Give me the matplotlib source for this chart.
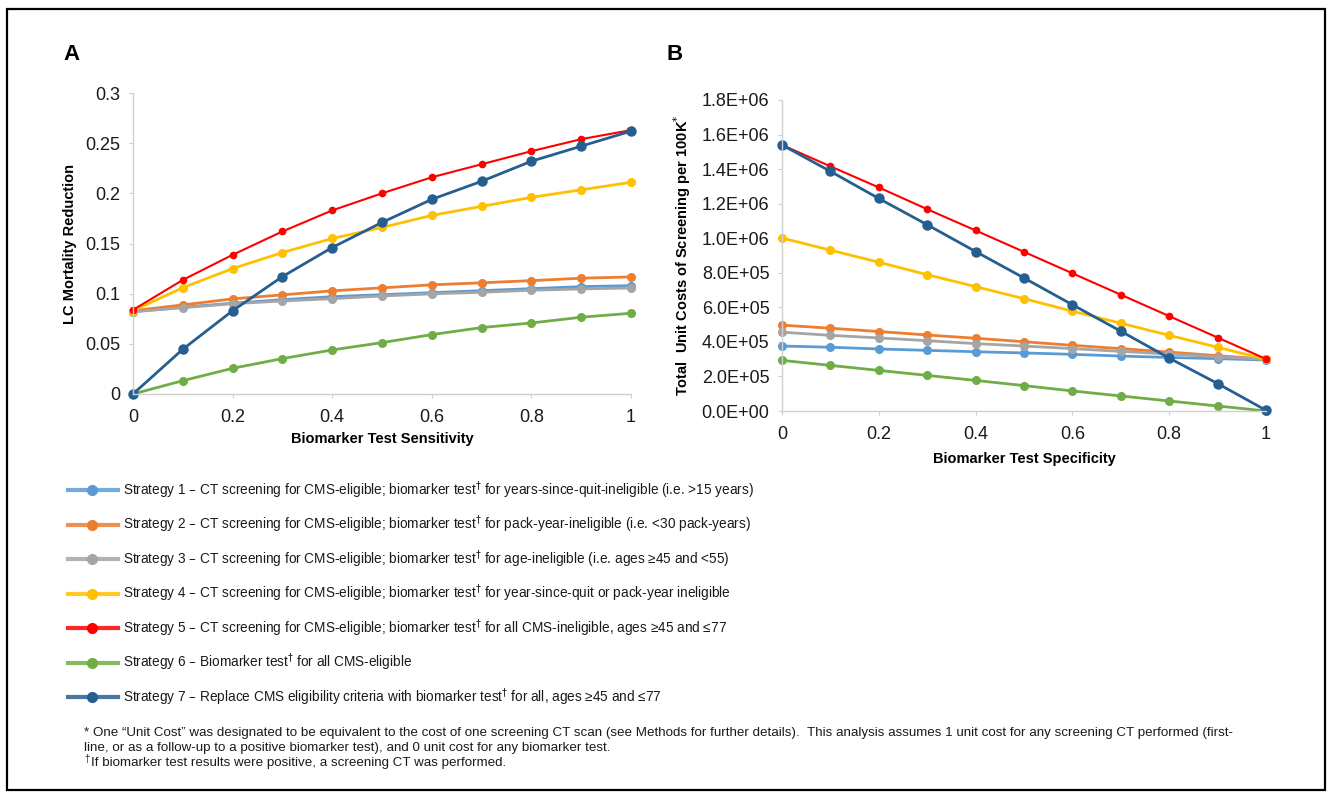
import matplotlib

matplotlib.use("Agg")
import matplotlib.pyplot as plt
from matplotlib.lines import Line2D
from matplotlib.patches import Rectangle
from matplotlib.ticker import FuncFormatter

W, H = 1329, 797

# x values (sensitivity / specificity)
x_vals = [0, 0.1, 0.2, 0.3, 0.4, 0.5, 0.6, 0.7, 0.8, 0.9, 1.0]

# panel A: LC mortality reduction vs sensitivity
mort_s1 = [0.082, 0.0865, 0.0905, 0.094, 0.097, 0.099, 0.101, 0.103, 0.105, 0.107, 0.108]
mort_s2 = [0.083, 0.0888, 0.0948, 0.0988, 0.1028, 0.1058, 0.1088, 0.1108, 0.113, 0.1154, 0.1167]
mort_s3 = [0.082, 0.086, 0.090, 0.0927, 0.095, 0.0977, 0.0998, 0.1014, 0.1034, 0.1047, 0.1057]
mort_s4 = [0.083, 0.106, 0.125, 0.141, 0.155, 0.166, 0.178, 0.187, 0.196, 0.2035, 0.211]
mort_s5 = [0.0838, 0.1137, 0.1387, 0.162, 0.183, 0.200, 0.216, 0.229, 0.242, 0.254, 0.263]
mort_s6 = [0.0, 0.0133, 0.0256, 0.0353, 0.0439, 0.0512, 0.0592, 0.0662, 0.0708, 0.0765, 0.0805]
mort_s7 = [0.0, 0.0446, 0.083, 0.117, 0.146, 0.171, 0.194, 0.212, 0.232, 0.247, 0.262]

# panel B: total unit costs per 100K vs specificity
cost_s1 = [376e3, 369e3, 359e3, 351e3, 343e3, 336e3, 328e3, 318e3, 310e3, 303e3, 295e3]
cost_s2 = [497e3, 479e3, 460e3, 440e3, 421e3, 401e3, 380e3, 361e3, 341e3, 320e3, 300e3]
cost_s3 = [456e3, 438e3, 423e3, 407e3, 390e3, 376e3, 361e3, 345e3, 330e3, 314e3, 299e3]
cost_s4 = [1001e3, 931e3, 861e3, 789e3, 720e3, 650e3, 578e3, 508e3, 438e3, 369e3, 299e3]
cost_s5 = [1540e3, 1416e3, 1294e3, 1168e3, 1045e3, 921e3, 797e3, 673e3, 549e3, 425e3, 301e3]
cost_s6 = [293e3, 264e3, 235e3, 206e3, 177e3, 147e3, 116e3, 87e3, 58e3, 29e3, 0]
cost_s7 = [1540e3, 1387e3, 1230e3, 1078e3, 923e3, 770e3, 615e3, 462e3, 306e3, 159e3, 4e3]

legend_labels = [
    "Strategy 1 – CT screening for CMS-eligible; biomarker test$^{\\dagger}$ for years-since-quit-ineligible (i.e. >15 years)",
    "Strategy 2 – CT screening for CMS-eligible; biomarker test$^{\\dagger}$ for pack-year-ineligible (i.e. <30 pack-years)",
    "Strategy 3 – CT screening for CMS-eligible; biomarker test$^{\\dagger}$ for age-ineligible (i.e. ages ≥45 and <55)",
    "Strategy 4 – CT screening for CMS-eligible; biomarker test$^{\\dagger}$ for year-since-quit or pack-year ineligible",
    "Strategy 5 – CT screening for CMS-eligible; biomarker test$^{\\dagger}$ for all CMS-ineligible, ages ≥45 and ≤77",
    "Strategy 6 – Biomarker test$^{\\dagger}$ for all CMS-eligible",
    "Strategy 7 – Replace CMS eligibility criteria with biomarker test$^{\\dagger}$ for all, ages ≥45 and ≤77",
]

footnotes = [
    "* One “Unit Cost” was designated to be equivalent to the cost of one screening CT scan (see Methods for further details).  "
    "This analysis assumes 1 unit cost for any screening CT performed (first-",
    "line, or as a follow-up to a positive biomarker test), and 0 unit cost for any biomarker test.",
    "If biomarker test results were positive, a screening CT was performed.",
]

colors = ["#5B9BD5", "#ED7D31", "#A5A5A5", "#FFC000", "#FF0000", "#70AD47", "#255E91"]
marker_sizes = [5.5, 5.5, 5.5, 5.5, 4.5, 5.5, 6.5]
line_widths = [2, 2, 2, 2, 1.5, 2, 2]

plt.rcParams.update(
    {
        "font.family": ["Liberation Sans", "DejaVu Sans"],
        "mathtext.fontset": "dejavusans",
        "axes.spines.top": False,
        "axes.spines.right": False,
    }
)


def px_box(left, right, top, bottom):
    return [left / W, 1 - bottom / H, (right - left) / W, (bottom - top) / H]


def style_axes(ax):
    for side in ("left", "bottom"):
        ax.spines[side].set_color("#D0D0D0")
        ax.spines[side].set_linewidth(1.0)
    ax.tick_params(axis="both", colors="#D0D0D0", labelcolor="#1a1a1a", labelsize=13, length=3)
    ax.tick_params(axis="x", pad=8)
    ax.tick_params(axis="y", pad=6)


fig = plt.figure(figsize=(W / 100, H / 100), dpi=100)

# panel A
ax_a = fig.add_axes(px_box(133, 631, 93, 394))
mort = [mort_s1, mort_s2, mort_s3, mort_s4, mort_s5, mort_s6, mort_s7]
for vals, c, ms, lw in zip(mort, colors, marker_sizes, line_widths):
    ax_a.plot(x_vals, vals, color=c, marker="o", markersize=ms, linewidth=lw, clip_on=False)
ax_a.set_xlim(0, 1)
ax_a.set_ylim(0, 0.3)
ax_a.set_xticks([0, 0.2, 0.4, 0.6, 0.8, 1.0])
ax_a.set_yticks([0, 0.05, 0.1, 0.15, 0.2, 0.25, 0.3])
ax_a.xaxis.set_major_formatter(FuncFormatter(lambda v, p: f"{v:g}"))
ax_a.yaxis.set_major_formatter(FuncFormatter(lambda v, p: f"{v:g}"))
style_axes(ax_a)
ax_a.set_xlabel("Biomarker Test Sensitivity", fontsize=10.5, fontweight="bold", labelpad=4)
ax_a.set_ylabel("LC Mortality Reduction", fontsize=10.5, fontweight="bold", labelpad=6)

# panel B
ax_b = fig.add_axes(px_box(782, 1266, 100, 411))
cost = [cost_s1, cost_s2, cost_s3, cost_s4, cost_s5, cost_s6, cost_s7]
for vals, c, ms, lw in zip(cost, colors, marker_sizes, line_widths):
    ax_b.plot(x_vals, vals, color=c, marker="o", markersize=ms, linewidth=lw, clip_on=False)
ax_b.set_xlim(0, 1)
ax_b.set_ylim(0, 1.8e6)
ax_b.set_xticks([0, 0.2, 0.4, 0.6, 0.8, 1.0])
ax_b.set_yticks([i * 2e5 for i in range(10)])
ax_b.xaxis.set_major_formatter(FuncFormatter(lambda v, p: f"{v:g}"))
ax_b.yaxis.set_major_formatter(FuncFormatter(lambda v, p: f"{v:.1E}"))
style_axes(ax_b)
ax_b.set_xlabel("Biomarker Test Specificity", fontsize=10.5, fontweight="bold", labelpad=6)
ax_b.set_ylabel("Total  Unit Costs of Screening per 100K$^{*}$", fontsize=10.5, fontweight="bold", labelpad=6)

fig.text(63 / W, 1 - 55 / H, "A", fontsize=16, fontweight="bold", va="center", ha="left")
fig.text(667 / W, 1 - 55 / H, "B", fontsize=16, fontweight="bold", va="center", ha="left")

# legend rows drawn by hand
for i, (label, c) in enumerate(zip(legend_labels, colors)):
    y = 1 - (490 + 34.5 * i) / H
    fig.add_artist(Line2D([68 / W, 118 / W], [y, y], color=c, linewidth=3, alpha=0.85))
    fig.add_artist(Line2D([92 / W], [y], color=c, marker="o", markersize=7, linestyle="none"))
    fig.text(123 / W, y, label, fontsize=9.8, va="center", ha="left", color="#1a1a1a")

# footnotes; the dagger of the last line is a small raised glyph of its own
for i, line in enumerate(footnotes):
    x0 = 84 if i < 2 else 91
    fig.text(x0 / W, 1 - (733 + 15 * i) / H, line, fontsize=9.6, va="center", ha="left", color="#1a1a1a")
fig.text(84 / W, 1 - 759 / H, "†", fontsize=7, va="center", ha="left", color="#1a1a1a")

# outer frame
fig.add_artist(Rectangle((7 / W, 1 - 790 / H), (1325 - 7) / W, (790 - 9) / H,
                         transform=fig.transFigure, fill=False, edgecolor="black", linewidth=1.6))

fig.savefig("out.png", dpi=100)
